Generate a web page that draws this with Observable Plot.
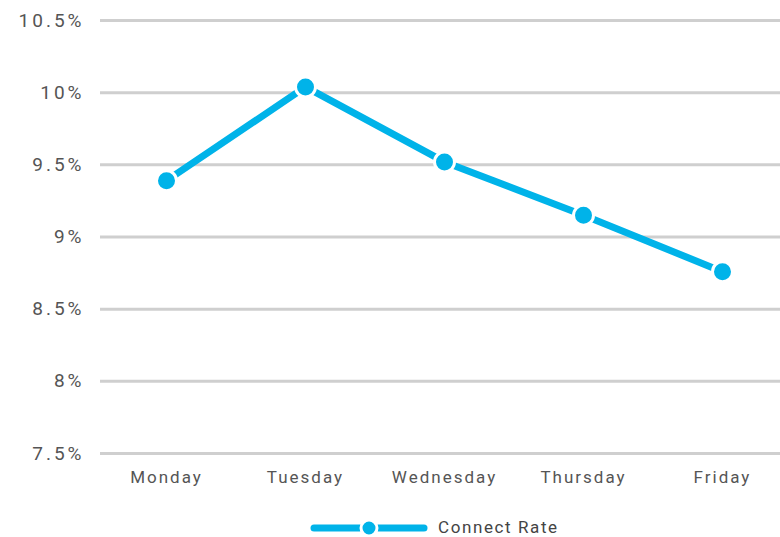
<!DOCTYPE html>
<html>
<head>
<meta charset="utf-8">
<script src="https://cdn.jsdelivr.net/npm/d3@7"></script>
<script src="https://cdn.jsdelivr.net/npm/@observablehq/plot@0.6"></script>
<style>
  body { margin: 0; background: #fff; font-family: Roboto, "Noto Sans", sans-serif; overflow: hidden; }
  #chart svg { display: block; }
  #legend { box-sizing: border-box; height: 37px; display: flex; justify-content: flex-start; align-items: center; padding-left: 310px; padding-top: 18px; font-size: 17px; color: #444; letter-spacing: 1.6px; line-height: 19px; }
  #legend svg { margin-right: 10px; display: block; }
</style>
</head>
<body>
<div id="chart"></div>
<div id="legend"></div>
<script>
const days = ["Monday", "Tuesday", "Wednesday", "Thursday", "Friday"];
const connectRate = [9.39, 10.04, 9.52, 9.15, 8.76];
const yTicks = [7.5, 8, 8.5, 9, 9.5, 10, 10.5];
const seriesName = "Connect Rate";
const color = "#00b3e9";

const data = days.map((d, i) => ({day: d, value: connectRate[i]}));

const chart = Plot.plot({
  width: 780,
  height: 500,
  marginTop: 20,
  marginBottom: 47,
  marginLeft: 100,
  marginRight: 0,
  style: {fontFamily: "Roboto, 'Noto Sans', sans-serif", background: "#fff"},
  x: {type: "point", domain: days, range: [166, 722], padding: 0, label: null},
  y: {domain: [7.5, 10.5], label: null},
  marks: [
    Plot.ruleY(yTicks, {stroke: "#cfcfcf", strokeWidth: 3}),
    Plot.axisY({ticks: yTicks, tickSize: 0, tickPadding: 16, tickFormat: d => d + "%", fontSize: 19, fill: "#555", label: null, className: "yax"}),
    Plot.axisX({tickSize: 0, tickPadding: 17, fontSize: 17, fill: "#555", label: null, className: "xax"}),
    Plot.line(data, {x: "day", y: "value", stroke: color, strokeWidth: 7, strokeLinejoin: "round"}),
    Plot.dot(data, {x: "day", y: "value", r: 10, fill: color, stroke: "#fff", strokeWidth: 3})
  ]
});
d3.select(chart).selectAll(".yax text").style("letter-spacing", "3px");
d3.select(chart).selectAll(".xax text").style("letter-spacing", "2px");
document.getElementById("chart").appendChild(chart);

const legend = document.getElementById("legend");
legend.innerHTML = `<svg width="118" height="20" viewBox="0 0 118 20">
  <line x1="4" x2="114" y1="10" y2="10" stroke="${color}" stroke-width="7" stroke-linecap="round"/>
  <circle cx="59" cy="10" r="8" fill="${color}" stroke="#fff" stroke-width="3"/>
</svg><span>${seriesName}</span>`;
</script>
</body>
</html>
